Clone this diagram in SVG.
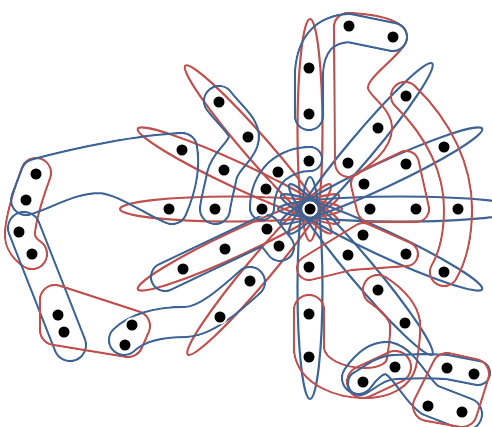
<svg xmlns="http://www.w3.org/2000/svg" width="492" height="427" viewBox="0 0 492 427">
<style>
.r{stroke:#c0504d}
.b{stroke:#3d6495}
.sp{fill:none;stroke-width:2.2}
.h{fill:none;stroke-linejoin:round;stroke-linecap:round}
.mw{fill:none;stroke:#fff;stroke-linejoin:round;stroke-linecap:round}
.mk{fill:none;stroke:#000;stroke-linejoin:round;stroke-linecap:round}
.mkf{fill:#000;stroke:#000;stroke-linejoin:round;stroke-linecap:round}
.nd circle{fill:#000;stroke:#fff;stroke-width:2}
</style>
<defs>
<path id="p1" d="M36,173 C31,187 22,210 20,232 C19,243 26,250 32,254"/>
<path id="p2" d="M36,174 C80,162 140,150 182,148 C186,170 178,195 172,209 C150,200 125,180 100,178 C70,178 45,195 26,200 Z"/>
<path id="p3" d="M24,228 L70,345"/>
<path id="p4" d="M55,300 L135,326 L128,342 L55,330 Z"/>
<path id="p5" d="M124,340 C140,325 165,322 185,322 S230,300 250,282"/>
<path id="p6" d="M165,277 L266,229 L280,247"/>
<path id="p7" d="M219,101 C232,118 248,128 243,142 C238,155 226,160 222,175 C219,190 216,200 215,209"/>
<path id="p8" d="M262,208 C262,195 266,182 277,171 C287,163 298,159 310,159"/>
<path id="p9" d="M348,27 C365,28 385,30 393,37 C380,55 352,70 354,90 C356,105 378,115 378,128 C378,142 360,155 349,163 Z"/>
<path id="p10" d="M309,116 L309,72 Q312,30 349,28 L393,37"/>
<path id="p11" d="M405,96 C440,130 458,170 458,209 C458,240 452,258 444,272"/>
<path id="p12" d="M364,184 L406,164 L416,209 L370,209 Z"/>
<path id="p13" d="M309,268 L363,235 L406,254 L350,258 Z"/>
<path id="p14" d="M309,310 L309,350 C312,372 340,383 365,383 C385,383 400,375 402,360 C404,345 406,335 405,323 C403,310 390,298 378,290"/>
<path id="p15" d="M363,382 L395,367"/>
<path id="p16" d="M360,383 C372,376 380,368 395,367 C415,366 435,366 447,367 L478,373"/>
<path id="p17" d="M358,378 C365,368 375,357 388,358 C405,362 415,390 430,400 L466,414"/>
<path id="p18" d="M447,368 L474,374 L462,412 L428,406 Z"/>
<mask id="m1" maskUnits="userSpaceOnUse" x="0" y="0" width="492" height="427"><use href="#p1" class="mw" stroke-width="32.4"/><use href="#p1" class="mk" stroke-width="28"/></mask>
<mask id="m2" maskUnits="userSpaceOnUse" x="0" y="0" width="492" height="427"><use href="#p2" class="mw" stroke-width="32.4"/><use href="#p2" class="mkf" stroke-width="28"/></mask>
<mask id="m3" maskUnits="userSpaceOnUse" x="0" y="0" width="492" height="427"><use href="#p3" class="mw" stroke-width="34.4"/><use href="#p3" class="mk" stroke-width="30"/></mask>
<mask id="m4" maskUnits="userSpaceOnUse" x="0" y="0" width="492" height="427"><use href="#p4" class="mw" stroke-width="32.4"/><use href="#p4" class="mkf" stroke-width="28"/></mask>
<mask id="m5" maskUnits="userSpaceOnUse" x="0" y="0" width="492" height="427"><use href="#p5" class="mw" stroke-width="32.4"/><use href="#p5" class="mk" stroke-width="28"/></mask>
<mask id="m6" maskUnits="userSpaceOnUse" x="0" y="0" width="492" height="427"><use href="#p6" class="mw" stroke-width="30.4"/><use href="#p6" class="mk" stroke-width="26"/></mask>
<mask id="m7" maskUnits="userSpaceOnUse" x="0" y="0" width="492" height="427"><use href="#p7" class="mw" stroke-width="32.4"/><use href="#p7" class="mk" stroke-width="28"/></mask>
<mask id="m8" maskUnits="userSpaceOnUse" x="0" y="0" width="492" height="427"><use href="#p8" class="mw" stroke-width="26.4"/><use href="#p8" class="mk" stroke-width="22"/></mask>
<mask id="m9" maskUnits="userSpaceOnUse" x="0" y="0" width="492" height="427"><use href="#p9" class="mw" stroke-width="30.4"/><use href="#p9" class="mkf" stroke-width="26"/></mask>
<mask id="m10" maskUnits="userSpaceOnUse" x="0" y="0" width="492" height="427"><use href="#p10" class="mw" stroke-width="30.4"/><use href="#p10" class="mk" stroke-width="26"/></mask>
<mask id="m11" maskUnits="userSpaceOnUse" x="0" y="0" width="492" height="427"><use href="#p11" class="mw" stroke-width="30.4"/><use href="#p11" class="mk" stroke-width="26"/></mask>
<mask id="m12" maskUnits="userSpaceOnUse" x="0" y="0" width="492" height="427"><use href="#p12" class="mw" stroke-width="28.4"/><use href="#p12" class="mkf" stroke-width="24"/></mask>
<mask id="m13" maskUnits="userSpaceOnUse" x="0" y="0" width="492" height="427"><use href="#p13" class="mw" stroke-width="26.4"/><use href="#p13" class="mkf" stroke-width="22"/></mask>
<mask id="m14" maskUnits="userSpaceOnUse" x="0" y="0" width="492" height="427"><use href="#p14" class="mw" stroke-width="32.4"/><use href="#p14" class="mk" stroke-width="28"/></mask>
<mask id="m15" maskUnits="userSpaceOnUse" x="0" y="0" width="492" height="427"><use href="#p15" class="mw" stroke-width="34.4"/><use href="#p15" class="mk" stroke-width="30"/></mask>
<mask id="m16" maskUnits="userSpaceOnUse" x="0" y="0" width="492" height="427"><use href="#p16" class="mw" stroke-width="26.4"/><use href="#p16" class="mk" stroke-width="22"/></mask>
<mask id="m17" maskUnits="userSpaceOnUse" x="0" y="0" width="492" height="427"><use href="#p17" class="mw" stroke-width="34.4"/><use href="#p17" class="mk" stroke-width="30"/></mask>
<mask id="m18" maskUnits="userSpaceOnUse" x="0" y="0" width="492" height="427"><use href="#p18" class="mw" stroke-width="32.4"/><use href="#p18" class="mkf" stroke-width="28"/></mask>
</defs>
<rect width="492" height="427" fill="#fff"/>
<g id="edges">
<g id="spokes" transform="translate(310 209)">
<ellipse class="sp r" cx="79" rx="111" ry="12.5" transform="rotate(-90)"/>
<ellipse class="sp r" cx="79" rx="111" ry="12.5" transform="rotate(-131)"/>
<ellipse class="sp r" cx="79" rx="111" ry="12.5" transform="rotate(-155)"/>
<ellipse class="sp r" cx="79" rx="111" ry="12.5" transform="rotate(-180)"/>
<ellipse class="sp r" cx="79" rx="111" ry="12.5" transform="rotate(-205)"/>
<ellipse class="sp r" cx="79" rx="111" ry="12.5" transform="rotate(-230)"/>
<ellipse class="sp b" cx="79" rx="111" ry="12.5" transform="rotate(-50)"/>
<ellipse class="sp b" cx="79" rx="111" ry="12.5" transform="rotate(-25)"/>
<ellipse class="sp b" cx="90" rx="122" ry="12.5"/>
<ellipse class="sp b" cx="79" rx="111" ry="12.5" transform="rotate(25)"/>
<ellipse class="sp b" cx="79" rx="111" ry="12.5" transform="rotate(50)"/>
<ellipse class="sp b" cx="79" rx="111" ry="12.5" transform="rotate(90)"/>
</g>
<use href="#p1" class="h r" stroke-width="32.4" mask="url(#m1)"/>
<use href="#p2" class="h b" stroke-width="32.4" mask="url(#m2)"/>
<use href="#p3" class="h b" stroke-width="34.4" mask="url(#m3)"/>
<use href="#p4" class="h r" stroke-width="32.4" mask="url(#m4)"/>
<use href="#p5" class="h b" stroke-width="32.4" mask="url(#m5)"/>
<use href="#p6" class="h b" stroke-width="30.4" mask="url(#m6)"/>
<use href="#p7" class="h b" stroke-width="32.4" mask="url(#m7)"/>
<use href="#p8" class="h b" stroke-width="26.4" mask="url(#m8)"/>
<use href="#p9" class="h r" stroke-width="30.4" mask="url(#m9)"/>
<use href="#p10" class="h b" stroke-width="30.4" mask="url(#m10)"/>
<use href="#p11" class="h r" stroke-width="30.4" mask="url(#m11)"/>
<use href="#p12" class="h r" stroke-width="28.4" mask="url(#m12)"/>
<use href="#p13" class="h r" stroke-width="26.4" mask="url(#m13)"/>
<use href="#p14" class="h r" stroke-width="32.4" mask="url(#m14)"/>
<use href="#p15" class="h r" stroke-width="34.4" mask="url(#m15)"/>
<use href="#p16" class="h b" stroke-width="26.4" mask="url(#m16)"/>
<use href="#p17" class="h b" stroke-width="34.4" mask="url(#m17)"/>
<use href="#p18" class="h r" stroke-width="32.4" mask="url(#m18)"/>
</g>
<g id="nodes" class="nd">
<g id="n0"><circle cx="310" cy="209" r="6.5"/></g>
<g id="n1"><circle cx="309" cy="161" r="6.5"/></g>
<g id="n2"><circle cx="348" cy="163" r="6.5"/></g>
<g id="n3"><circle cx="364" cy="184" r="6.5"/></g>
<g id="n4"><circle cx="370" cy="209" r="6.5"/></g>
<g id="n5"><circle cx="363" cy="235" r="6.5"/></g>
<g id="n6"><circle cx="348" cy="255" r="6.5"/></g>
<g id="n7"><circle cx="309" cy="267" r="6.5"/></g>
<g id="n8"><circle cx="279" cy="246" r="6.5"/></g>
<g id="n9"><circle cx="267" cy="229" r="6.5"/></g>
<g id="n10"><circle cx="262" cy="209" r="6.5"/></g>
<g id="n11"><circle cx="266" cy="189" r="6.5"/></g>
<g id="n12"><circle cx="278" cy="172" r="6.5"/></g>
<g id="n13"><circle cx="309" cy="114" r="6.5"/></g>
<g id="n14"><circle cx="378" cy="128" r="6.5"/></g>
<g id="n15"><circle cx="406" cy="164" r="6.5"/></g>
<g id="n16"><circle cx="416" cy="209" r="6.5"/></g>
<g id="n17"><circle cx="406" cy="254" r="6.5"/></g>
<g id="n18"><circle cx="378" cy="290" r="6.5"/></g>
<g id="n19"><circle cx="309" cy="314" r="6.5"/></g>
<g id="n20"><circle cx="250" cy="281" r="6.5"/></g>
<g id="n21"><circle cx="225" cy="249" r="6.5"/></g>
<g id="n22"><circle cx="215" cy="209" r="6.5"/></g>
<g id="n23"><circle cx="224" cy="170" r="6.5"/></g>
<g id="n24"><circle cx="248" cy="137" r="6.5"/></g>
<g id="n25"><circle cx="309" cy="68" r="6.5"/></g>
<g id="n26"><circle cx="406" cy="96" r="6.5"/></g>
<g id="n27"><circle cx="444" cy="147" r="6.5"/></g>
<g id="n28"><circle cx="458" cy="209" r="6.5"/></g>
<g id="n29"><circle cx="444" cy="272" r="6.5"/></g>
<g id="n30"><circle cx="405" cy="323" r="6.5"/></g>
<g id="n31"><circle cx="309" cy="357" r="6.5"/></g>
<g id="n32"><circle cx="220" cy="317" r="6.5"/></g>
<g id="n33"><circle cx="183" cy="269" r="6.5"/></g>
<g id="n34"><circle cx="169" cy="209" r="6.5"/></g>
<g id="n35"><circle cx="182" cy="150" r="6.5"/></g>
<g id="n36"><circle cx="219" cy="102" r="6.5"/></g>
<g id="n37"><circle cx="349" cy="26" r="6.5"/></g>
<g id="n38"><circle cx="393" cy="37" r="6.5"/></g>
<g id="n39"><circle cx="36" cy="174" r="6.5"/></g>
<g id="n40"><circle cx="26" cy="200" r="6.5"/></g>
<g id="n41"><circle cx="19" cy="232" r="6.5"/></g>
<g id="n42"><circle cx="32" cy="254" r="6.5"/></g>
<g id="n43"><circle cx="58" cy="315" r="6.5"/></g>
<g id="n44"><circle cx="64" cy="332" r="6.5"/></g>
<g id="n45"><circle cx="132" cy="325" r="6.5"/></g>
<g id="n46"><circle cx="125" cy="345" r="6.5"/></g>
<g id="n47"><circle cx="363" cy="382" r="6.5"/></g>
<g id="n48"><circle cx="395" cy="367" r="6.5"/></g>
<g id="n49"><circle cx="447" cy="368" r="6.5"/></g>
<g id="n50"><circle cx="474" cy="374" r="6.5"/></g>
<g id="n51"><circle cx="428" cy="406" r="6.5"/></g>
<g id="n52"><circle cx="462" cy="412" r="6.5"/></g>
</g>
</svg>
